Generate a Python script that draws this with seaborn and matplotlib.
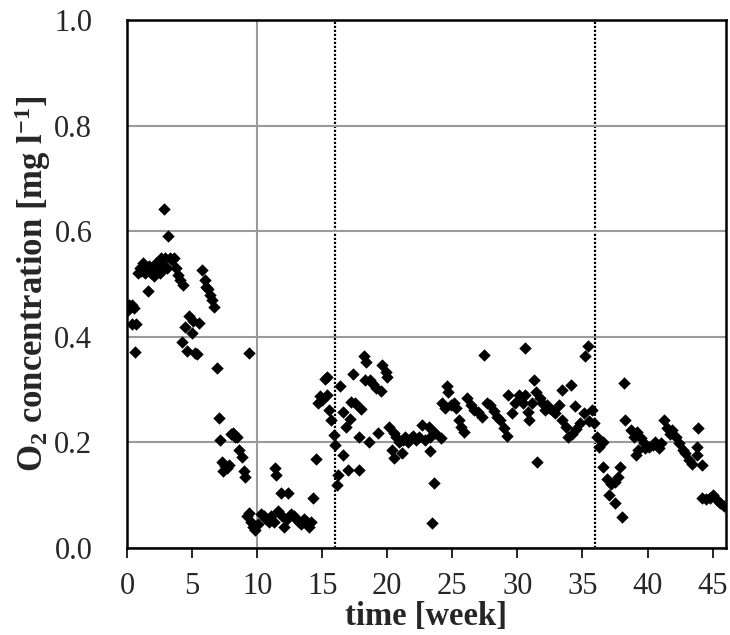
import numpy as np
import pandas as pd
import matplotlib
matplotlib.use("Agg")
import matplotlib.pyplot as plt
import seaborn as sns

# values (week, O2 in mg/l)
week_a = [0.05, 0.15, 0.36, 0.5, 0.36, 0.7, 0.62, 0.85, 1.0, 1.1, 1.2, 1.35, 1.45, 1.59, 1.7, 1.85,
          2.0, 2.1, 2.25, 2.4, 2.5, 2.6, 2.75, 2.87, 2.9, 3.05, 3.18, 3.3, 3.45, 3.6, 3.8, 3.9,
          4.1, 4.26, 4.3, 4.46, 4.59, 4.8, 4.98, 5.05, 5.23, 5.36, 5.54, 5.74, 6.0, 6.1, 6.2,
          6.35, 6.5, 6.7, 6.92, 7.03, 7.15, 7.3, 7.35, 7.5, 7.67, 7.8, 8.0, 8.18, 8.3, 8.44,
          8.6, 8.8, 9.0, 9.1, 9.2, 9.41, 9.4, 9.55, 9.7, 9.85, 10.05]
o2_a = [0.45, 0.46, 0.46, 0.455, 0.425, 0.425, 0.371, 0.52, 0.53, 0.525, 0.54, 0.52, 0.53, 0.487,
        0.535, 0.52, 0.53, 0.515, 0.54, 0.525, 0.52, 0.549, 0.535, 0.642, 0.549, 0.53, 0.591,
        0.55, 0.545, 0.549, 0.53, 0.517, 0.508, 0.39, 0.498, 0.419, 0.374, 0.44, 0.407, 0.43,
        0.369, 0.367, 0.427, 0.527, 0.508, 0.495, 0.49, 0.48, 0.47, 0.456, 0.34, 0.246, 0.205,
        0.163, 0.145, 0.155, 0.152, 0.157, 0.215, 0.217, 0.21, 0.211, 0.186, 0.173, 0.145,
        0.135, 0.06, 0.37, 0.066, 0.05, 0.04, 0.035, 0.045]

week_b = [10.3, 10.5, 10.7, 10.9, 11.1, 11.3, 11.4, 11.45, 11.6, 11.8, 11.9, 12.1, 12.3, 12.4,
          12.6, 12.8, 13.0, 13.2, 13.4, 13.6, 13.8, 13.95, 14.1, 14.3, 14.5, 14.7, 14.85, 15.0,
          15.2, 15.36, 15.4, 15.5, 15.7, 15.9]
o2_b = [0.065, 0.06, 0.055, 0.05, 0.06, 0.05, 0.151, 0.138, 0.07, 0.104, 0.06, 0.04, 0.055,
        0.104, 0.065, 0.06, 0.055, 0.05, 0.045, 0.055, 0.05, 0.04, 0.05, 0.095, 0.168, 0.275,
        0.287, 0.28, 0.32, 0.324, 0.29, 0.261, 0.242, 0.214]

week_c = [16.0, 16.1, 16.25, 16.4, 16.6, 16.6, 16.8, 17.0, 17.1, 17.2, 17.4, 17.5, 17.8, 17.8,
          18.0, 18.2, 18.4, 18.3, 18.6, 18.7, 18.9, 19.1, 19.3, 19.5, 19.6, 19.9, 20.0, 20.1,
          20.4, 20.5, 20.5, 20.7, 20.9, 21.1, 21.2, 21.4, 21.6, 21.8, 22.0, 22.2, 22.4, 22.7,
          22.9, 23.2, 23.3, 23.3, 23.6, 23.4, 23.7, 24.1]
o2_c = [0.195, 0.119, 0.138, 0.306, 0.258, 0.176, 0.23, 0.148, 0.244, 0.277, 0.33, 0.274, 0.211,
        0.148, 0.263, 0.364, 0.353, 0.318, 0.201, 0.318, 0.31, 0.303, 0.218, 0.298, 0.347, 0.334,
        0.323, 0.23, 0.186, 0.17, 0.217, 0.21, 0.2, 0.179, 0.205, 0.21, 0.2, 0.208, 0.212, 0.205,
        0.21, 0.233, 0.205, 0.23, 0.211, 0.183, 0.123, 0.047, 0.217, 0.208]

week_d = [24.2, 24.4, 24.6, 24.7, 24.9, 25.1, 25.3, 25.5, 25.7, 25.9, 26.1, 26.4, 26.7, 27.0,
          27.3, 27.4, 27.7, 27.9, 28.2, 28.4, 28.7, 28.95, 29.2, 29.3, 29.6, 29.8, 30.1, 30.4,
          30.6, 30.6, 30.8, 30.9]
o2_d = [0.274, 0.265, 0.306, 0.296, 0.27, 0.274, 0.265, 0.242, 0.23, 0.22, 0.284, 0.27, 0.262,
        0.258, 0.249, 0.366, 0.275, 0.27, 0.26, 0.249, 0.242, 0.228, 0.212, 0.29, 0.256, 0.275,
        0.29, 0.275, 0.378, 0.29, 0.258, 0.242]

week_e = [31.1, 31.3, 31.4, 31.5, 31.7, 31.9, 32.1, 32.3, 32.4, 32.7, 32.9, 33.2, 33.4, 33.45,
          33.7, 33.9, 34.1, 34.2, 34.4, 34.5, 34.8, 35.1, 35.2, 35.4, 35.5, 35.7, 35.9, 36.1,
          36.3, 36.6, 36.6, 36.9, 37.0, 37.2, 37.5, 37.5, 37.7, 37.9, 38.05, 38.2, 38.3]
o2_e = [0.275, 0.318, 0.296, 0.162, 0.285, 0.275, 0.261, 0.27, 0.265, 0.26, 0.256, 0.27, 0.3,
        0.242, 0.23, 0.211, 0.309, 0.215, 0.269, 0.225, 0.236, 0.256, 0.364, 0.383, 0.24, 0.262,
        0.236, 0.211, 0.192, 0.2, 0.154, 0.13, 0.1, 0.122, 0.125, 0.085, 0.135, 0.154, 0.059,
        0.312, 0.242]

week_f = [38.7, 38.95, 39.1, 39.2, 39.3, 39.5, 39.7, 39.8, 40.1, 40.4, 40.6, 40.9, 41.0, 41.25,
          41.5, 41.7, 41.9, 42.15, 42.4, 42.7, 42.9, 43.2, 43.4, 43.8, 43.8, 43.9, 44.2, 44.2,
          44.5, 44.8, 45.0, 45.3, 45.6, 45.9]
o2_f = [0.223, 0.211, 0.176, 0.22, 0.186, 0.208, 0.198, 0.189, 0.192, 0.195, 0.201, 0.189, 0.198,
        0.242, 0.227, 0.215, 0.223, 0.211, 0.198, 0.186, 0.179, 0.167, 0.16, 0.192, 0.176, 0.227,
        0.157, 0.095, 0.092, 0.095, 0.1, 0.09, 0.085, 0.08]

x_ticks = [0, 5, 10, 15, 20, 25, 30, 35, 40, 45]
y_ticks = [0.0, 0.2, 0.4, 0.6, 0.8, 1.0]
phase_solid = 10
phase_dotted = [16, 36]

df = pd.DataFrame({
    'week': week_a + week_b + week_c + week_d + week_e + week_f,
    'o2': o2_a + o2_b + o2_c + o2_d + o2_e + o2_f,
})

sns.set_theme(style='white')
plt.rcParams['font.family'] = ['Liberation Serif', 'DejaVu Serif']
plt.rcParams['mathtext.default'] = 'regular'

fig = plt.figure(figsize=(7.3, 6.35), dpi=100)
ax = fig.add_axes([0.174, 0.137, 0.82, 0.8315])

ax.axvline(phase_solid, color='#9a9a9a', lw=1.5, zorder=0)
for xv in phase_dotted:
    ax.axvline(xv, color='black', lw=1.6, ls=(0, (1, 0.8)), zorder=0)

sns.scatterplot(data=df, x='week', y='o2', marker='D', color='black', s=40,
                linewidth=0, ax=ax, zorder=3)

ax.set_xlim(0, 46)
ax.set_ylim(0, 1.0)
ax.set_xticks(x_ticks)
ax.set_yticks(y_ticks)
ax.set_yticklabels([f'{v:.1f}' for v in y_ticks])
ax.yaxis.grid(True, color='#9a9a9a', lw=1.5)
ax.set_axisbelow(True)

for sp in ax.spines.values():
    sp.set_color('black')
    sp.set_linewidth(1.8)

ax.tick_params(axis='x', direction='out', length=7, width=1.2, color='black',
               labelsize=22, pad=10, bottom=True)
ax.tick_params(axis='y', length=0, labelsize=22, pad=25)

ax.set_xlabel('time [week]', fontsize=23.5, fontweight='bold', labelpad=0)
ax.set_ylabel('O$_2$ concentration [mg l$^{-1}$]', fontsize=25, fontweight='bold', labelpad=1)

fig.savefig('out.png', dpi=100)
